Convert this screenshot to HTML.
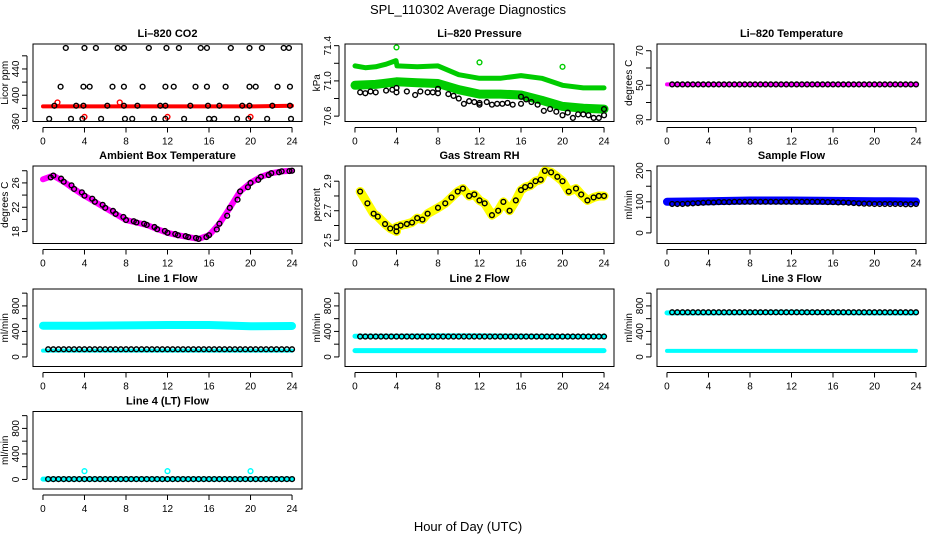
<!DOCTYPE html>
<html><head><meta charset="utf-8"><style>
html,body{margin:0;padding:0;background:#fff;}
svg{display:block;font-family:"Liberation Sans",Arial,sans-serif;}
</style></head><body>
<svg id="chart" width="936" height="540" viewBox="0 0 936 540">
<text x="468" y="14" text-anchor="middle" font-size="13">SPL_110302  Average Diagnostics</text>
<text x="468" y="531" text-anchor="middle" font-size="13">Hour of Day (UTC)</text>
</svg>
<script>
// ---------- data ----------
const xTicks = [0,4,8,12,16,20,24];
const halfHours = [0.5,1,1.5,2,2.5,3,3.5,4,4.5,5,5.5,6,6.5,7,7.5,8,8.5,9,9.5,10,10.5,11,11.5,12,12.5,13,13.5,14,14.5,15,15.5,16,16.5,17,17.5,18,18.5,19,19.5,20,20.5,21,21.5,22,22.5,23,23.5,24];
const bandHours = [0,4,8,12,16,20,24];

// CO2
const co2Hours = [2.2,4.0,5.1,7.2,7.8,10.2,11.9,13.1,15.2,15.8,18.1,19.9,21.1,23.2,23.7,
 1.7,3.9,4.5,6.7,7.8,9.6,11.8,12.6,14.7,15.8,17.6,19.9,20.5,22.6,23.8,
 1.1,3.2,3.9,6.2,7.8,9.1,11.3,11.8,14.2,15.9,17.0,19.2,19.9,22.1,23.8,
 0.6,2.7,3.8,5.6,7.9,8.6,10.7,11.8,13.6,16.0,16.5,18.7,19.8,21.6,23.9];
const co2Values = [472,472,472,472,472,472,472,472,472,472,472,472,472,472,472,
 413,413,413,413,413,413,413,413,413,413,413,413,413,413,413,
 384,384,384,384,384,384,384,384,384,384,384,384,384,384,384,
 364,364,364,364,364,364,364,364,364,364,364,364,364,364,364];
const co2Band = [383,383,383,383,383,383,384];
const co2OutHours = [4,12,20,1.4,7.4];
const co2OutValues = [367,367,367,389,389];

// Pressure
const presHours = [0.5,1,1.5,2,3,3.6,4,4,5,5.8,6.3,7,7.5,8,8,9,9.5,10,10.5,11,11.5,12,12,12.7,13.2,13.7,14.2,14.7,15.2,16,16,16.5,17,17.6,18.2,18.8,19.4,20,20.5,21,21.5,22,22.5,23,23.5,24,24];
const presValues = [70.87,70.86,70.88,70.87,70.89,70.90,70.92,70.87,70.88,70.84,70.88,70.87,70.87,70.86,70.91,70.85,70.83,70.80,70.74,70.77,70.76,70.75,70.73,70.76,70.73,70.74,70.74,70.75,70.73,70.74,70.82,70.79,70.76,70.73,70.66,70.68,70.65,70.61,70.64,70.58,70.62,70.62,70.61,70.58,70.58,70.61,70.68];
const presUpperHours = [0,1,2,3,3.95,4.05,6,8,10,12,14,16,18,20,22,24];
const presUpper = [71.17,71.15,71.16,71.19,71.23,71.17,71.16,71.17,71.07,71.03,71.03,71.06,71.03,70.95,70.92,70.92];
const presLowerHours = [0,2,4,6,8,10,12,14,16,18,20,22,24];
const presLower = [70.95,70.96,70.99,70.98,70.97,70.90,70.85,70.85,70.84,70.78,70.71,70.69,70.68];
const presOutHours = [4,12,20];
const presOutValues = [71.38,71.21,71.16];

// Li-820 temperature
const liTempValues = halfHours.map(()=>50.5);
const liTempBand = [50.5,50.5,50.5,50.5,50.5,50.5,50.5];

// Ambient box temperature
const ambHours = [0,1,2,3,4,5,6,7,8,9,10,11,12,13,14,15,16,17,18,19,20,21,22,23,24];
const ambValues = [26.6,27.2,26.2,25.0,23.9,22.9,21.9,20.9,19.9,19.5,19.1,18.4,17.8,17.4,17.1,16.8,17.4,19.3,21.9,24.6,26.0,27.0,27.6,27.9,28.0];

// Gas stream RH
const rhHours = [0.5,1.2,1.8,2.2,2.9,3.4,4,4,4.4,5,5.5,6,6.5,7,8,8.7,9.3,9.9,10.4,11,11.5,12,12.5,13.2,13.8,14.3,14.9,15.5,16,16.4,16.9,17.4,17.9,18.3,18.9,19.5,20,20.6,21.3,21.8,22.4,23,23.5,24];
const rhValues = [2.83,2.75,2.68,2.66,2.61,2.58,2.56,2.59,2.60,2.61,2.62,2.65,2.64,2.68,2.72,2.75,2.79,2.83,2.85,2.80,2.81,2.77,2.75,2.67,2.70,2.76,2.70,2.77,2.84,2.86,2.87,2.90,2.91,2.97,2.96,2.93,2.90,2.83,2.85,2.81,2.77,2.79,2.80,2.80];

// Sample flow
const sampleBand = [100,102,104,104,103,102,101];
const sampleValues = [93,93,93,94,95,96,97,98,98,99,99,99,100,100,100,100,100,100,100,100,100,100,100,100,100,100,100,100,100,100,99,99,98,98,97,96,95,94,94,93,93,93,93,93,93,92,92,93];

// Line flows
const line1High = [490,490,495,500,500,480,485];
const line1Low = [100,100,100,100,100,100,100];
const line1Values = halfHours.map(()=>120);
const line2High = [325,325,330,330,325,320,320];
const line2Low = [100,100,100,100,100,100,100];
const line2Values = halfHours.map(()=>320);
const line3High = [690,690,695,700,695,690,690];
const line3Low = [95,95,95,95,95,95,95];
const line3Values = halfHours.map(()=>700);
const line4Band = [5,5,5,5,5,5,5];
const line4Values = halfHours.map(()=>5);
const line4OutHours = [4,12,20];
const line4OutValues = [130,130,130];

// ---------- drawing ----------
const NS = "http://www.w3.org/2000/svg";
const svg = document.getElementById("chart");
function mk(tag, attrs, parent){
  const e = document.createElementNS(NS, tag);
  for (const k in attrs) e.setAttribute(k, attrs[k]);
  (parent||svg).appendChild(e);
  return e;
}
const colX = [33, 345, 657];
const rowY = [44, 166, 289, 411.5];
const BW = 269, BH = 77.5;

function panel(name, col, row, title, ylab, yMin, yMax, ticks, labels){
  const x0 = colX[col], y0 = rowY[row];
  const g = mk("g", {});
  
  
  const xs = h => x0 + (h + 0.96) / 25.92 * BW;
  const ys = v => y0 + BH - (v - yMin) / (yMax - yMin) * BH;
  const t = mk("text", {x: x0 + BW/2, y: y0 - 7, "text-anchor": "middle", "font-size": 11, "font-weight": "bold"}, g);
  t.textContent = title;
  
  
  const box = mk("rect", {x: x0, y: y0, width: BW, height: BH, fill: "none", stroke: "#000", "stroke-width": 1}, g);
  
  
  // x axis
  const xa = mk("g", {}, g);
  
  
  mk("line", {x1: xs(0), x2: xs(24), y1: y0 + BH + 6, y2: y0 + BH + 6, stroke: "#000"}, xa);
  xTicks.forEach(h => {
    mk("line", {x1: xs(h), x2: xs(h), y1: y0 + BH + 6, y2: y0 + BH + 11, stroke: "#000"}, xa);
    const l = mk("text", {x: xs(h), y: y0 + BH + 23, "text-anchor": "middle", "font-size": 10}, xa);
    l.textContent = h;
  });
  // y axis
  const ya = mk("g", {}, g);
  
  
  mk("line", {x1: x0 - 6, x2: x0 - 6, y1: ys(ticks[0]), y2: ys(ticks[ticks.length-1]), stroke: "#000"}, ya);
  ticks.forEach(v => mk("line", {x1: x0 - 11, x2: x0 - 6, y1: ys(v), y2: ys(v), stroke: "#000"}, ya));
  labels.forEach(v => {
    const l = mk("text", {x: 0, y: 0, "text-anchor": "middle", "font-size": 10,
      transform: `translate(${x0 - 14},${ys(v)}) rotate(-90)`}, ya);
    l.textContent = v;
  });
  const yl = mk("text", {x: 0, y: 0, "text-anchor": "middle", "font-size": 10,
    transform: `translate(${x0 - 25},${y0 + BH/2}) rotate(-90)`}, g);
  yl.textContent = ylab;
  
  
  const clip = mk("g", {}, g);
  return {g: clip, xs, ys};
}
function band(p, hours, vals, color, w, name){
  const pts = hours.map((h,i) => p.xs(h).toFixed(1) + "," + p.ys(vals[i]).toFixed(1)).join(" ");
  const e = mk("polyline", {points: pts, fill: "none", stroke: color, "stroke-width": w, "stroke-linecap": "round", "stroke-linejoin": "round"}, p.g);
  
  
}
function pts(p, hours, vals, color, name, r){
  const gg = mk("g", {}, p.g);
  
  
  hours.forEach((h,i) => {
    const c = mk("circle", {cx: p.xs(h), cy: p.ys(vals[i]), r: r||2.4, fill: "none", stroke: color, "stroke-width": 1.4}, gg);
    
    
  });
}

// Li-820 CO2
let p = panel("co2-panel", 0, 0, "Li\u2013820 CO2", "Licor ppm", 360, 478, [360,380,400,420,440,460], [360,400,440]);
band(p, bandHours, co2Band, "#ff0000", 4, "co2-band");
pts(p, co2OutHours, co2OutValues, "#ff0000", "co2-outliers");
pts(p, co2Hours, co2Values, "#000", "co2-points");

// Pressure
p = panel("pressure-panel", 1, 0, "Li\u2013820 Pressure", "kPa", 70.539, 71.419, [70.6,70.8,71.0,71.2,71.4], ["70.6","71.0","71.4"]);
band(p, presUpperHours, presUpper, "#00cc00", 5, "pressure-upper-band");
band(p, presLowerHours, presLower, "#00cc00", 9, "pressure-lower-band");
pts(p, presOutHours, presOutValues, "#00cc00", "pressure-outliers");
pts(p, presHours, presValues, "#000", "pressure-points");

// Li-820 Temperature
p = panel("li820-temperature-panel", 2, 0, "Li\u2013820 Temperature", "degrees C", 29, 73.9, [30,40,50,60,70], [30,50,70]);
band(p, bandHours, liTempBand, "#ff00ff", 4, "li820-temp-band");
pts(p, halfHours, liTempValues, "#000", "li820-temp-points");

// Ambient
p = panel("ambient-temperature-panel", 0, 1, "Ambient Box Temperature", "degrees C", 16.04, 28.78, [18,20,22,24,26,28], [18,22,26]);
band(p, ambHours, ambValues, "#ff00ff", 6, "ambient-band");
pts(p, ambHours.slice(1).map((h)=>h-0.25).concat(ambHours.slice(1)), ambValues.slice(1).map((v,i)=>(v+ambValues[i])/2).concat(ambValues.slice(1)), "#000", "ambient-points");

// RH
p = panel("gas-rh-panel", 1, 1, "Gas Stream RH", "percent", 2.478, 3.003, [2.5,2.6,2.7,2.8,2.9], ["2.5","2.7","2.9"]);
band(p, rhHours, rhValues, "#ffff00", 9, "rh-band");
pts(p, rhHours, rhValues, "#000", "rh-points");

// Sample flow
p = panel("sample-flow-panel", 2, 1, "Sample Flow", "ml/min", -34, 215, [0,50,100,150,200], [0,100,200]);
band(p, bandHours, sampleBand, "#0000ff", 8, "sample-flow-band");
pts(p, halfHours, sampleValues, "#000", "sample-flow-points");

// Line flows
const fTicks = [0,200,400,600,800,1000], fLabels = [0,400,800];
p = panel("line1-flow-panel", 0, 2, "Line 1 Flow", "ml/min", -150, 1065, fTicks, fLabels);
band(p, bandHours, line1High, "#00ffff", 8, "line1-high-band");
band(p, bandHours, line1Low, "#00ffff", 4, "line1-low-band");
pts(p, halfHours, line1Values, "#000", "line1-points");

p = panel("line2-flow-panel", 1, 2, "Line 2 Flow", "ml/min", -150, 1065, fTicks, fLabels);
band(p, bandHours, line2High, "#00ffff", 5, "line2-high-band");
band(p, bandHours, line2Low, "#00ffff", 5, "line2-low-band");
pts(p, halfHours, line2Values, "#000", "line2-points");

p = panel("line3-flow-panel", 2, 2, "Line 3 Flow", "ml/min", -150, 1065, fTicks, fLabels);
band(p, bandHours, line3High, "#00ffff", 5, "line3-high-band");
band(p, bandHours, line3Low, "#00ffff", 4, "line3-low-band");
pts(p, halfHours, line3Values, "#000", "line3-points");

p = panel("line4-flow-panel", 0, 3, "Line 4 (LT) Flow", "ml/min", -150, 1065, fTicks, fLabels);
band(p, bandHours, line4Band, "#00ffff", 5, "line4-band");
pts(p, line4OutHours, line4OutValues, "#00ffff", "line4-outliers");
pts(p, halfHours, line4Values, "#000", "line4-points");
</script>
</body></html>
